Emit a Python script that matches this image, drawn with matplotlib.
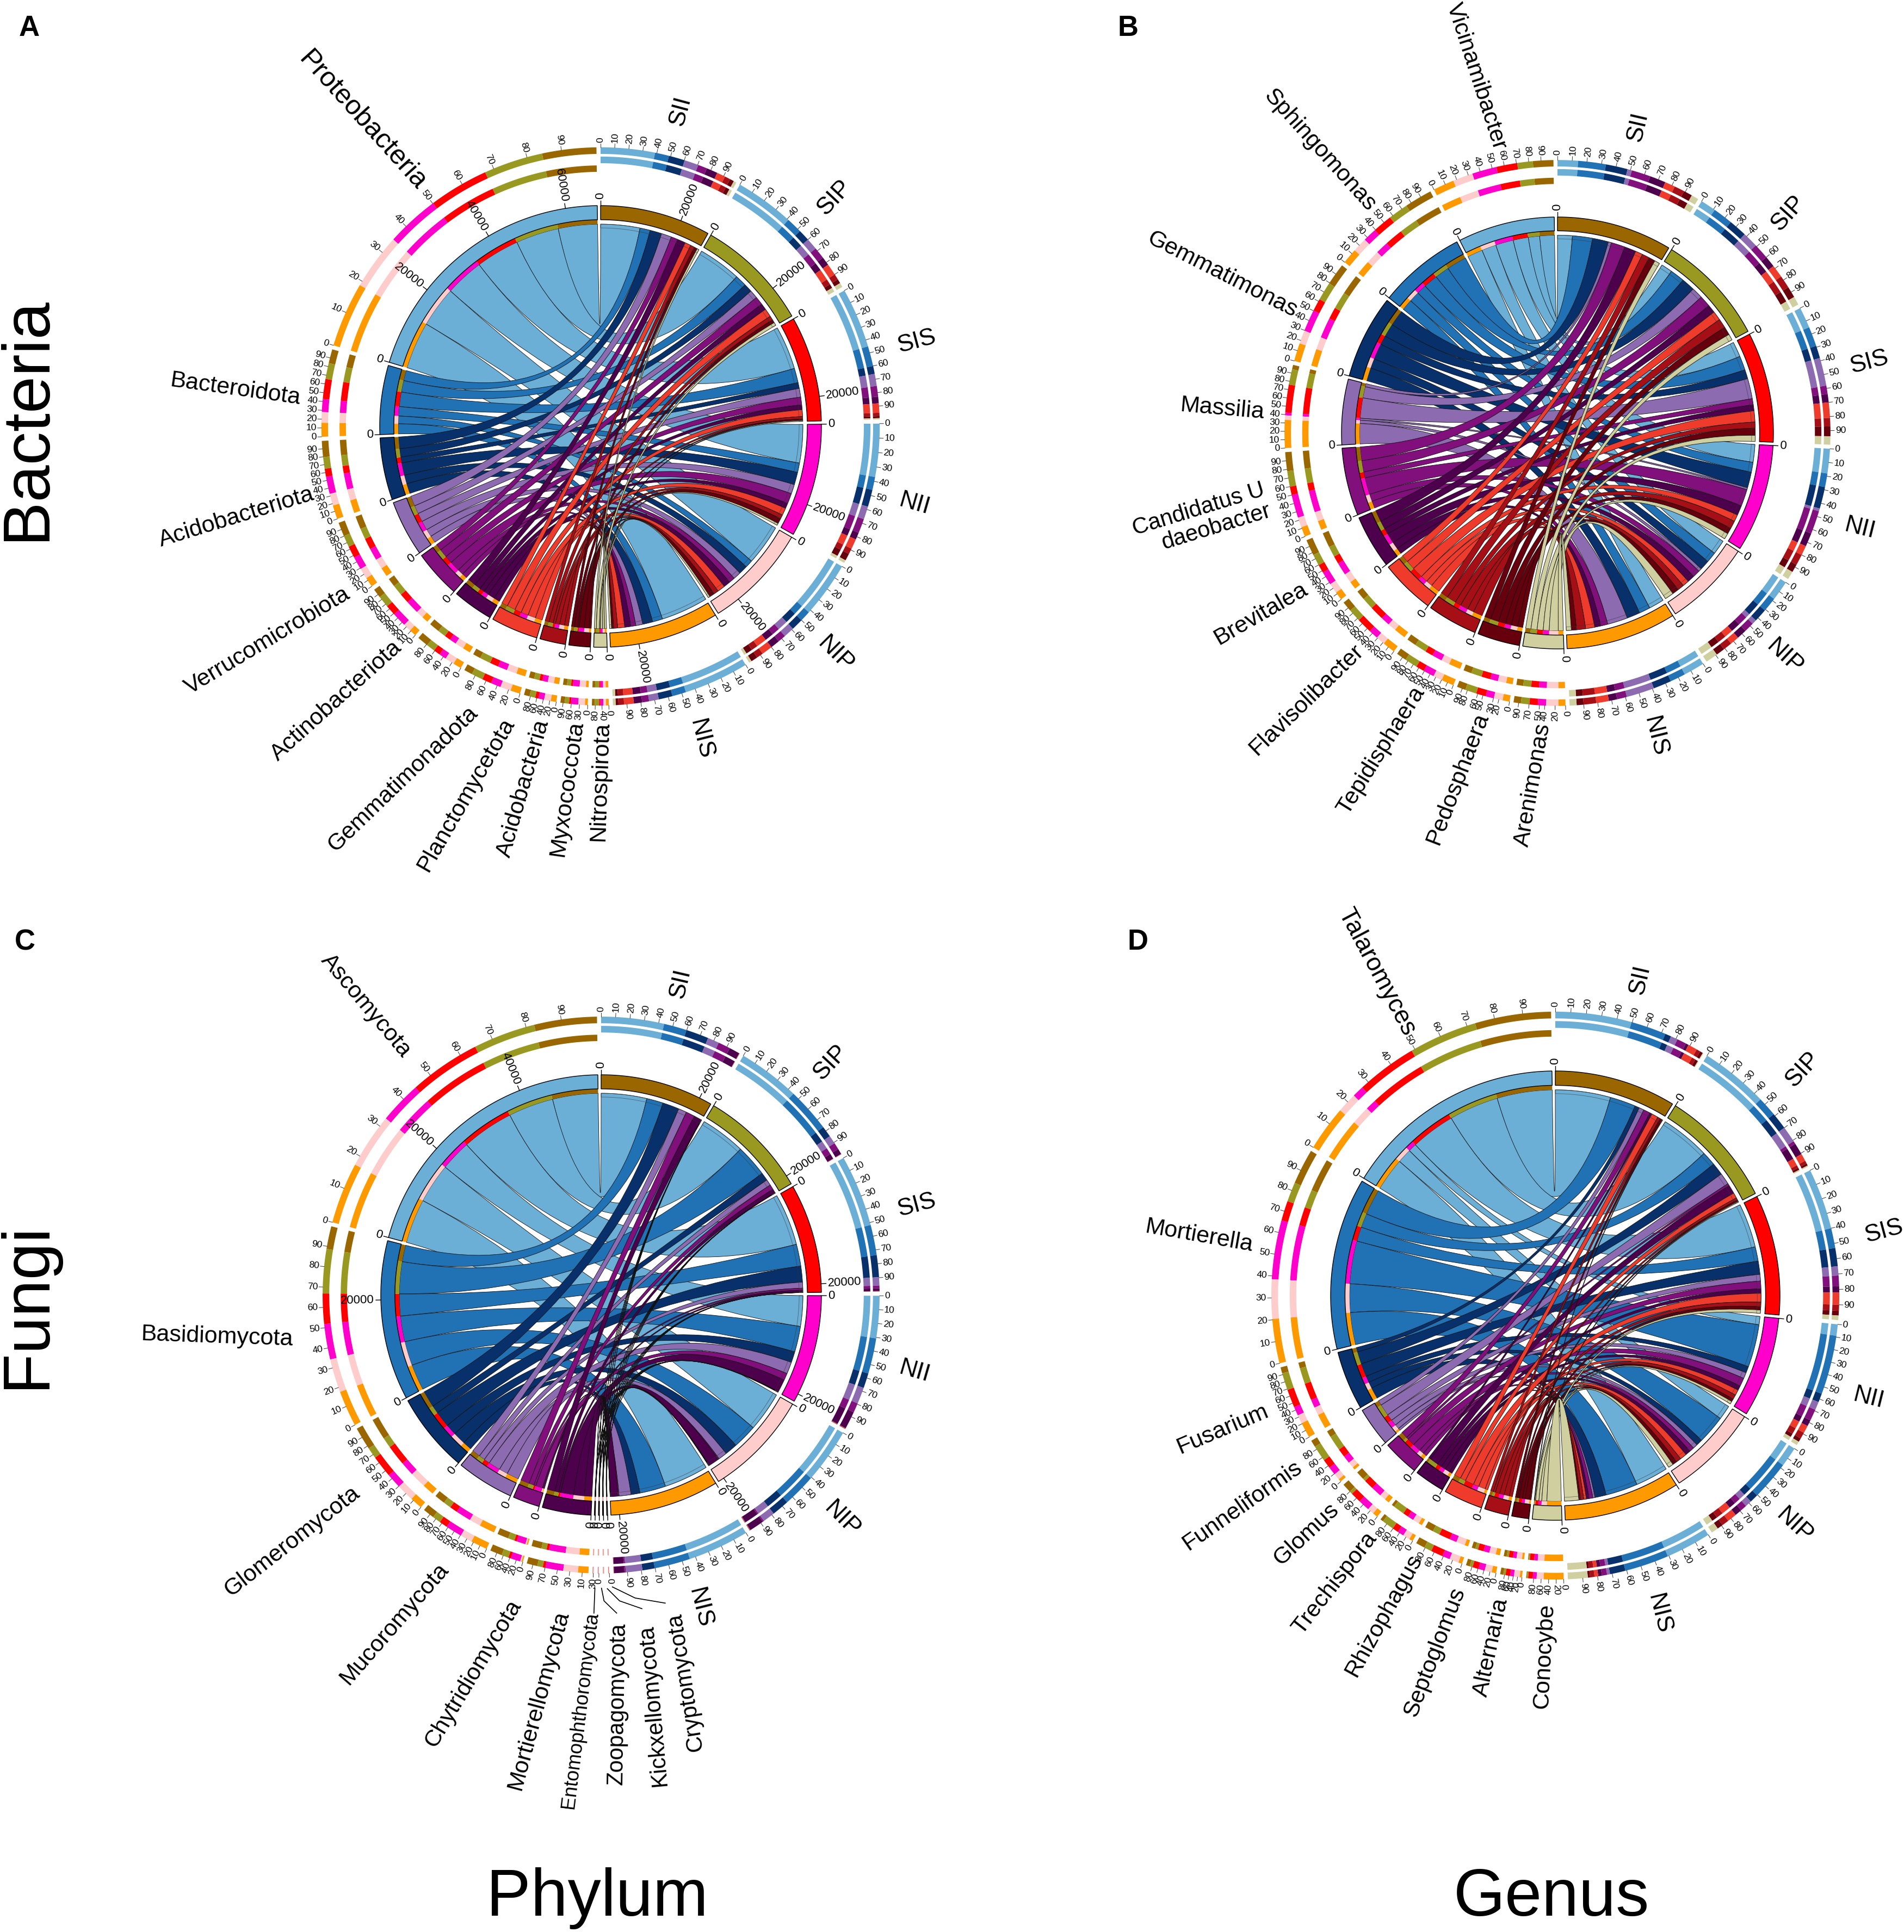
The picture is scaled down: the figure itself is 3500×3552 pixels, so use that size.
import numpy as np
import matplotlib
matplotlib.use("Agg")
import matplotlib.pyplot as plt
from matplotlib.path import Path
from matplotlib.patches import PathPatch

plt.rcParams['font.family'] = ['Liberation Sans', 'DejaVu Sans']

W, H = 3500, 3552
THUMB = 3500 / 1545.0

sample_names = ["SII", "SIP", "SIS", "NII", "NIP", "NIS"]
sample_colors = ["#996600", "#999922", "#FF0000", "#FF00CC", "#FFCCCC", "#FF9900"]
taxa_colors = ["#6BAED6", "#2171B5", "#08306B", "#8C6BB1", "#810F7C", "#4D004B",
               "#EF3B2C", "#A50F15", "#67000D", "#CFCFA0"]

# ---- panel A : Bacteria / Phylum
a_taxa = ["Proteobacteria", "Bacteroidota", "Acidobacteriota", "Verrucomicrobiota",
          "Actinobacteriota", "Gemmatimonadota", "Planctomycetota", "Acidobacteria",
          "Myxococcota", "Nitrospirota"]
a_totals = [27300, 28200, 26000, 28000, 26000, 27000]
a_SII = [38.5, 10, 11.5, 10, 6.5, 8, 6, 4, 3, 2]
a_SIP = [41, 11, 8, 8, 8, 6, 8, 4, 3, 3]
a_SIS = [45, 15, 6, 9, 8, 5, 7, 2.5, 1.5, 1]
a_NII = [37, 9, 12, 9, 10, 5, 7, 4, 5, 2]
a_NIP = [42, 8, 9, 8, 6, 7, 8, 5, 5, 2]
a_NIS = [47, 10, 10, 7, 5, 6, 7, 4, 2, 2]
a_ticks = [range(0, 100, 10)] * 5 + [range(0, 100, 20)] * 3 + [[0, 30, 60, 90], [0, 40, 80]]

# ---- panel B : Bacteria / Genus
b_taxa = ["Vicinamibacter", "Sphingomonas", "Gemmatimonas", "Massilia",
          "Candidatus U\ndaeobacter", "Brevitalea", "Flavisolibacter", "Tepidisphaera",
          "Pedosphaera", "Arenimonas"]
b_totals = [9300, 9000, 8900, 8700, 7100, 8900]
b_SII = [14, 19, 15, 3, 13, 11, 7, 7, 6, 5]
b_SIP = [11, 14, 13, 11, 11, 8, 9, 9, 8, 6]
b_SIS = [15, 14, 9, 20, 6, 6, 11, 6, 7, 6]
b_NII = [18, 10, 16, 2, 17, 10, 7, 8, 6, 6]
b_NIP = [18, 13, 12, 4, 9, 9, 8, 8, 8, 11]
b_NIS = [15, 11, 13, 20, 7, 6, 9, 9, 5, 5]
b_ticks = [range(0, 100, 10)] * 8 + [[0, 20, 30, 50, 60, 80, 90], [0, 20, 40, 50, 70, 90]]

# ---- panel C : Fungi / Phylum
c_taxa = ["Ascomycota", "Basidiomycota", "Glomeromycota", "Mucoromycota",
          "Chytridiomycota", "Mortierellomycota", "Entomophthoromycota",
          "Zoopagomycota", "Kickxellomycota", "Cryptomycota"]
c_totals = [22500, 21800, 21700, 21600, 21200, 21700]
c_SII = [44, 16, 16, 8, 8.5, 7.5, 0.1, 0.1, 0.1, 0.1]
c_SIP = [45, 32, 8, 6, 5, 4, 0.1, 0.1, 0.1, 0.1]
c_SIS = [52, 22, 16, 6, 2, 2, 0.1, 0.1, 0.1, 0.1]
c_NII = [31, 26, 11, 12, 7, 13, 0.2, 0.2, 0.2, 0.2]
c_NIP = [41, 25, 13, 9, 1, 11, 0.2, 0.2, 0.2, 0.2]
c_NIS = [44.5, 26, 9, 12, 1, 7.5, 0.1, 0.1, 0.1, 0.1]
c_ticks = [range(0, 100, 10)] * 4 + [range(0, 100, 20), [10, 30, 50, 70, 90], [30], [0], [], [0]]

# ---- panel D : Fungi / Genus
d_taxa = ["Talaromyces", "Mortierella", "Fusarium", "Funneliformis", "Glomus",
          "Trechispora", "Rhizophagus", "Septoglomus", "Alternaria", "Conocybe"]
d_totals = [9420, 9180, 9330, 7770, 7170, 9000]
d_SII = [49.5, 23, 4, 4.5, 6, 2, 6, 2.5, 2, 0.5]
d_SIP = [45.6, 13, 11.4, 10.7, 2, 8, 5, 2, 1.5, 0.8]
d_SIS = [40, 13, 12, 6, 7, 4, 8, 4, 3, 3]
d_NII = [9, 46.5, 7, 6.5, 9, 5, 6, 5, 3, 3]
d_NIP = [17, 33.6, 7.4, 5.5, 5.5, 6, 8, 6, 5, 6]
d_NIS = [30.6, 30, 10.5, 2, 3.5, 2.5, 2.5, 3, 1.5, 13.4]
d_ticks = [range(0, 100, 10)] * 3 + [range(0, 100, 20)] * 7

# ---- layout (thumbnail coordinates x, y, rotation, size), kept apart from data
a_lab = [(294, 98, -48, 36), (191, 316, -8, 31), (192, 420, 17, 31), (217, 520, 31, 31),
         (273, 569, 42, 31), (327, 632, 44, 31), (378, 645, 60, 31), (425, 640, 74, 31),
         (460, 640, 82, 31), (487, 634, 88, 31)]
a_slab = [(552, 90, 75), (677, 160, 47), (744, 277, 15), (742, 409, -16), (678, 531, -45), (569, 600, -76)]
b_lab = [(1198, 62, -72, 31), (1071, 122, -48, 31), (992, 223, -27, 31), (992, 332, -5, 31),
         (975, 422, 17, 30), (1023, 498, 30, 31), (1060, 568, 44, 31), (1121, 609, 58, 31),
         (1183, 632, 69, 31), (1244, 637, 80, 31)]
b_slab = [(1329, 103, 77), (1451, 173, 48), (1517, 294, 15), (1509, 429, -14), (1448, 533, -43), (1343, 598, -76)]
c_lab = [(297, 816, -50, 31), (176, 1085, -2, 31), (237, 1251, 38, 31), (320, 1318, 49, 31),
         (384, 1358, 59, 31), (437, 1380, 75, 31), (471, 1388, 83, 26), (501, 1383, 89, 30),
         (530, 1384, 95, 30), (556, 1365, 99, 30)]
c_slab = [(552, 798, 77), (674, 862, 47), (744, 978, 15), (742, 1113, -16), (683, 1233, -45), (568, 1305, -76)]
d_lab = [(1117, 789, -62, 33), (973, 1003, -10, 31), (992, 1160, 23, 31), (1008, 1222, 35, 31),
         (1060, 1245, 43, 31), (1083, 1285, 52, 31), (1123, 1311, 61, 31), (1164, 1341, 69, 31),
         (1210, 1337, 78, 31), (1253, 1344, 87, 31)]
d_slab = [(1331, 795, 77), (1463, 868, 47), (1529, 999, 15), (1516, 1135, -14), (1456, 1238, -43), (1346, 1310, -76)]

GAP = 0.85

fig = plt.figure(figsize=(W / 100, H / 100), dpi=100)
ax = fig.add_axes([0, 0, 1, 1])
ax.set_xlim(0, W)
ax.set_ylim(H, 0)
ax.axis('off')


def polar(cx, cy, r, deg):
    t = np.radians(deg)
    return cx + r * np.sin(t), cy - r * np.cos(t)


def wedge(cx, cy, r0, r1, a0, a1, fc, ec='none', lw=0.0, z=3):
    n = max(3, int(abs(a1 - a0) * 2) + 2)
    th = np.linspace(a0, a1, n)
    xo, yo = polar(cx, cy, r1, th)
    xi, yi = polar(cx, cy, r0, th[::-1])
    pts = np.column_stack([np.r_[xo, xi, xo[0]], np.r_[yo, yi, yo[0]]])
    codes = [Path.MOVETO] + [Path.LINETO] * (len(pts) - 2) + [Path.CLOSEPOLY]
    ax.add_patch(PathPatch(Path(pts, codes), fc=fc, ec=ec, lw=lw, zorder=z,
                           joinstyle='miter', antialiased=True))


def arc_points(cx, cy, r, a0, a1):
    n = max(2, int(abs(a1 - a0) * 2) + 2)
    th = np.linspace(a0, a1, n)
    x, y = polar(cx, cy, r, th)
    return list(zip(x, y))


def chord(cx, cy, r, a0, a1, b0, b1, fc, z):
    verts, codes = [], []
    p = arc_points(cx, cy, r, a0, a1)
    verts += p
    codes += [Path.MOVETO] + [Path.LINETO] * (len(p) - 1)
    q = arc_points(cx, cy, r, b0, b1)
    verts += [(cx, cy), q[0]]
    codes += [Path.CURVE3, Path.CURVE3]
    verts += q[1:]
    codes += [Path.LINETO] * (len(q) - 1)
    verts += [(cx, cy), p[0]]
    codes += [Path.CURVE3, Path.CURVE3]
    ax.add_patch(PathPatch(Path(verts, codes), fc=fc, ec='#111111', lw=0.6, zorder=z))


def radial_text(cx, cy, r, deg, s, size):
    deg = deg % 360
    x, y = polar(cx, cy, r, deg)
    if deg < 180:
        ax.text(x, y, s, rotation=90 - deg, rotation_mode='anchor', ha='left', va='center',
                fontsize=size, zorder=8)
    else:
        ax.text(x, y, s, rotation=270 - deg, rotation_mode='anchor', ha='right', va='center',
                fontsize=size, zorder=8)


def draw_panel(cx, cy, R, taxa, rows, totals, ticks, lab, slab):
    P = np.array(rows, float)
    P = P / P.sum(axis=1, keepdims=True)
    M = P * np.array(totals, float)[:, None]      # samples x taxa
    s_tot = M.sum(axis=1)
    t_tot = M.sum(axis=0)
    scale = (360 - 16 * GAP) / (s_tot.sum() + t_tot.sum())

    a = 0.0
    s_start, t_start = [], [None] * 10
    for v in s_tot:
        s_start.append(a)
        a += v * scale + GAP
    for i in range(9, -1, -1):
        t_start[i] = a
        a += t_tot[i] * scale + GAP

    rc = 0.916 * R
    s_pos = {}
    for s in range(6):
        u = s_start[s]
        for t in range(10):
            w = M[s, t] * scale
            s_pos[(s, t)] = (u, u + w)
            u += w
    t_pos = {}
    for t in range(10):
        u = t_start[t]
        for s in range(5, -1, -1):
            w = M[s, t] * scale
            t_pos[(s, t)] = (u, u + w)
            u += w

    z = 2.0
    for t in range(10):
        for s in range(6):
            z += 0.001
            a0, a1 = t_pos[(s, t)]
            b0, b1 = s_pos[(s, t)]
            chord(cx, cy, rc, a0, a1, b0, b1, taxa_colors[t], z)

    for (s, t), (a0, a1) in t_pos.items():
        wedge(cx, cy, rc, 0.936 * R, a0, a1, sample_colors[s], z=4)
    for (s, t), (b0, b1) in s_pos.items():
        wedge(cx, cy, 0.899 * R, rc, b0, b1, 'none', ec='#33333399', lw=0.6, z=4)

    def rings(colors, stack_pos, r_inner):
        for k, col in colors:
            b0, b1 = stack_pos[k]
            wedge(cx, cy, 1.234 * R, 1.264 * R, b0, b1, col, z=4)
            wedge(cx, cy, r_inner[0] * R, r_inner[1] * R, b0, b1, col, z=4)

    for s in range(6):
        a0 = s_start[s]
        a1 = a0 + s_tot[s] * scale
        wedge(cx, cy, 0.936 * R, R, a0, a1, sample_colors[s], ec='black', lw=1.0, z=5)
        rings([((s, t), taxa_colors[t]) for t in range(10)], s_pos, (1.192, 1.222))
        for v in np.arange(0, s_tot[s], 20000):
            d = a0 + v * scale
            ax.plot(*zip(polar(cx, cy, R, d), polar(cx, cy, R + 9, d)), color='black', lw=1.0, zorder=6)
            radial_text(cx, cy, R + 12, d, str(int(v)), 16)
        for pct in range(0, 100, 10):
            d = a0 + (a1 - a0) * pct / 100
            ax.plot(*zip(polar(cx, cy, 1.264 * R, d), polar(cx, cy, 1.264 * R + 7, d)),
                    color='#333333', lw=0.7, zorder=6)
            radial_text(cx, cy, 1.264 * R + 9, d, str(pct), 12.5)

    for t in range(10):
        a0 = t_start[t]
        a1 = a0 + t_tot[t] * scale
        wedge(cx, cy, 0.936 * R, R, a0, a1, taxa_colors[t], ec='black', lw=1.0, z=5)
        rings([((s, t), sample_colors[s]) for s in range(6)], t_pos, (1.153, 1.182))
        for v in np.arange(0, t_tot[t], 20000):
            d = a0 + v * scale
            ax.plot(*zip(polar(cx, cy, R, d), polar(cx, cy, R + 9, d)), color='black', lw=1.0, zorder=6)
            radial_text(cx, cy, R + 12, d, str(int(v)), 16)
        for pct in ticks[t]:
            d = a0 + (a1 - a0) * pct / 100
            ax.plot(*zip(polar(cx, cy, 1.264 * R, d), polar(cx, cy, 1.264 * R + 7, d)),
                    color='#333333', lw=0.7, zorder=6)
            radial_text(cx, cy, 1.264 * R + 9, d, str(pct), 12.5)

    for name, (x, y, rot, fs) in zip(taxa, lab):
        ax.text(x * THUMB, y * THUMB, name, rotation=rot, rotation_mode='anchor', ha='center',
                va='center', fontsize=fs, multialignment='right', zorder=8, linespacing=1.0)
    for name, (x, y, rot) in zip(sample_names, slab):
        ax.text(x * THUMB, y * THUMB, name, rotation=rot, rotation_mode='anchor', ha='center',
                va='center', fontsize=32, zorder=8)


draw_panel(1104, 784, 406, a_taxa, [a_SII, a_SIP, a_SIS, a_NII, a_NIP, a_NIS], a_totals, a_ticks, a_lab, a_slab)
draw_panel(2863, 796, 397, b_taxa, [b_SII, b_SIP, b_SIS, b_NII, b_NIP, b_NIS], b_totals, b_ticks, b_lab, b_slab)
draw_panel(1105, 2381, 405, c_taxa, [c_SII, c_SIP, c_SIS, c_NII, c_NIP, c_NIS], c_totals, c_ticks, c_lab, c_slab)
draw_panel(2859, 2382, 413, d_taxa, [d_SII, d_SIP, d_SIS, d_NII, d_NIP, d_NIS], d_totals, d_ticks, d_lab, d_slab)

# leader lines of panel C (label pointers)
leaders = [[(878, 588), (873, 700)], [(912, 588), (925, 645), (990, 700)],
           [(942, 590), (1005, 645), (1120, 680)], [(968, 582), (1085, 632), (1240, 655)]]
for line in leaders:
    xs = [p[0] / 2.8 + 780 for p in line]
    ys = [p[1] / 2.45 + 2680 for p in line]
    ax.plot(xs, ys, color='black', lw=1.2, zorder=7)

for s, x, y in [("A", 54, 52), ("B", 2073, 52), ("C", 46, 1732), ("D", 2092, 1732)]:
    ax.text(x, y, s, fontsize=38, fontweight='bold', ha='center', va='center')
ax.text(50, 770, "Bacteria", rotation=90, fontsize=88, ha='center', va='center')
ax.text(50, 2400, "Fungi", rotation=90, fontsize=88, ha='center', va='center')
ax.text(1098, 3490, "Phylum", fontsize=88, ha='center', va='center')
ax.text(2852, 3490, "Genus", fontsize=88, ha='center', va='center')

fig.savefig("out.png", dpi=100, facecolor='white')
